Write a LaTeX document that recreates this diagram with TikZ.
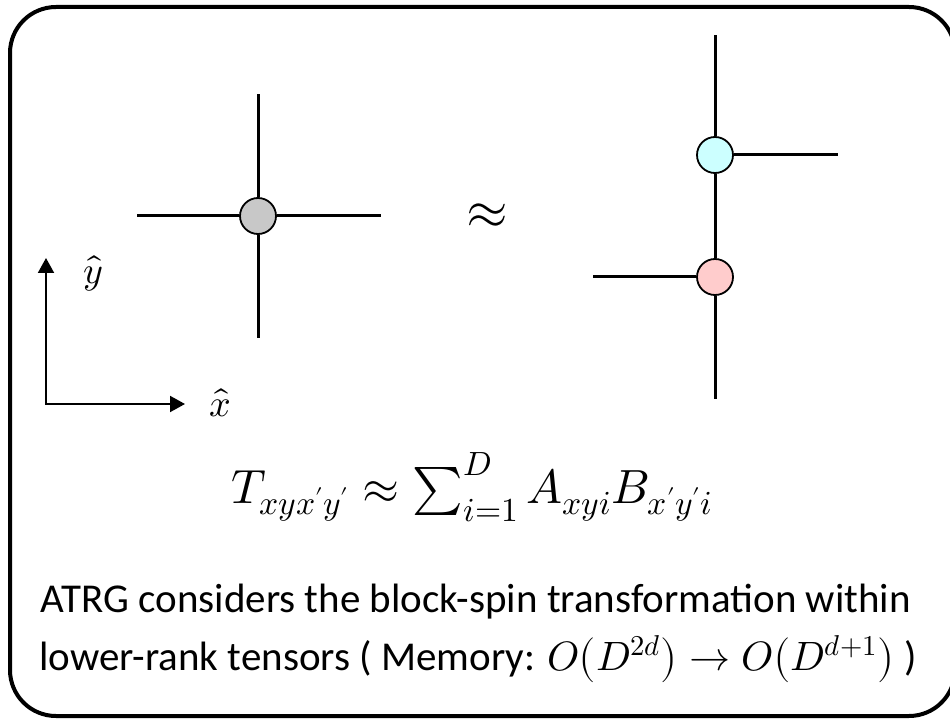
\documentclass[tikz,border=0pt]{standalone}
\usepackage{amsmath}
\usepackage{fontspec}
\usepackage{unicode-math}
\setmainfont{Carlito}
\setmathfont{Latin Modern Math}
\usetikzlibrary{arrows.meta}
\definecolor{tgray}{HTML}{C8C8C8}
\definecolor{tcyan}{HTML}{CCFFFF}
\definecolor{tpink}{HTML}{FFCCCC}
\begin{document}
\begin{tikzpicture}[x=1pt,y=-1pt,
  leg/.style={line width=3pt},
  tensor/.style={circle,draw,line width=1.8pt,minimum size=36pt,inner sep=0pt},
  axis/.style={line width=2pt,{Triangle[length=15pt,width=16pt]}-{Triangle[length=15pt,width=16pt]}},
]
\useasboundingbox (0,0) rectangle (950,719);
\draw[line width=4pt, rounded corners=46pt] (10,7) rectangle (955,716);

% left tensor
\coordinate (Tl) at (137,216);
\coordinate (Tr) at (381,216);
\coordinate (Tt) at (258,94);
\coordinate (Tb) at (258,338);
\node[tensor, fill=tgray] (T) at (258,216) {};
\draw[leg] (T.west) -- (Tl);
\draw[leg] (T.east) -- (Tr);
\draw[leg] (T.north) -- (Tt);
\draw[leg] (T.south) -- (Tb);

% approx
\node (approx) at (487,216) {\fontsize{54}{60}\selectfont$\approx$};

% right decomposition
\coordinate (At) at (715,35);
\coordinate (Ar) at (838,155);
\coordinate (Bl) at (593,277);
\coordinate (Bb) at (715,399);
\node[tensor, fill=tcyan] (A) at (715,155) {};
\node[tensor, fill=tpink] (B) at (715,277) {};
\draw[leg] (A.north) -- (At);
\draw[leg] (A.east) -- (Ar);
\draw[leg] (A.south) -- (B.north);
\draw[leg] (B.west) -- (Bl);
\draw[leg] (B.south) -- (Bb);

% axes
\coordinate (O) at (46,404);
\coordinate (Ye) at (46,258);
\coordinate (Xe) at (185,404);
\draw[axis] (Ye) -- (O) -- (Xe);
\node (yhat) at (93,273) {\fontsize{38}{44}\selectfont$\hat{y}$};
\node (xhat) at (220,403) {\fontsize{38}{44}\selectfont$\hat{x}$};

% formula
\node[anchor=base] (eq) at (472,503) {\fontsize{48}{54}\selectfont$T_{xyx'y'} \approx \sum_{i=1}^{D} A_{xyi}B_{x'y'i}$};

% text
\node[anchor=base] (l1) at (476,612) {\fontsize{41}{48}\selectfont ATRG considers the block-spin transformation within};
\node[anchor=base] (l2) at (478,670) {\fontsize{41}{48}\selectfont lower-rank tensors ( Memory: $O\bigl(D^{2d}\bigr)\rightarrow O\bigl(D^{d+1}\bigr)$ )};
\end{tikzpicture}
\end{document}
